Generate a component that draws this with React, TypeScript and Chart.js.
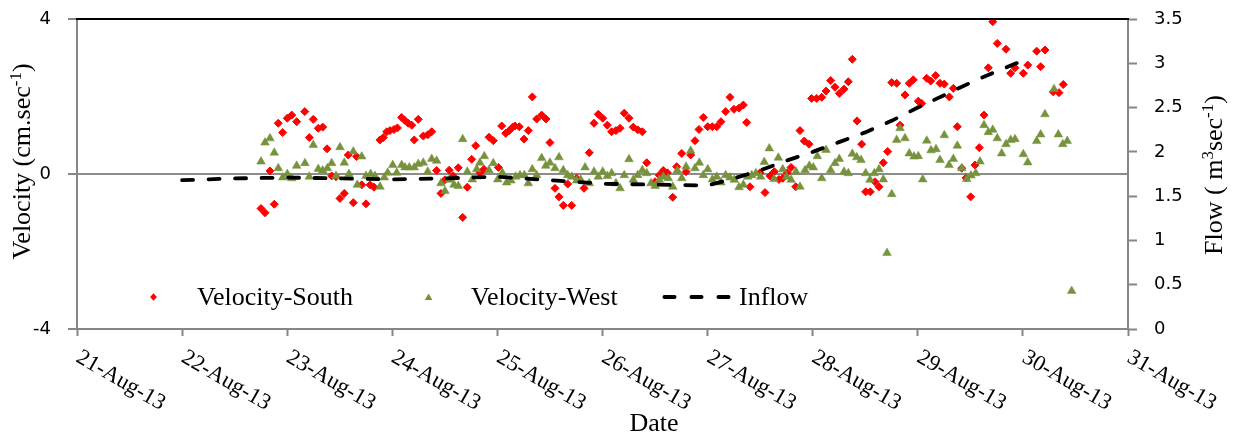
import { useEffect, useRef } from 'react';
import { Chart, registerables } from 'chart.js';

Chart.register(...registerables);

// x values are days since 21-Aug-13 00:00
const dateLabels = ['21-Aug-13', '22-Aug-13', '23-Aug-13', '24-Aug-13', '25-Aug-13', '26-Aug-13', '27-Aug-13', '28-Aug-13', '29-Aug-13', '30-Aug-13', '31-Aug-13'];

const southDay = [
  1.751, 1.789, 1.836, 1.877, 1.915, 1.957, 2.001, 2.043, 2.090, 2.167,
  2.210, 2.248, 2.296, 2.338, 2.379, 2.423, 2.464, 2.502, 2.543, 2.581,
  2.629, 2.661, 2.709, 2.750, 2.788, 2.826, 2.883, 2.914, 2.947, 2.978,
  3.016, 3.048, 3.089, 3.121, 3.152, 3.185, 3.209, 3.247, 3.295, 3.337,
  3.375, 3.422, 3.463, 3.501, 3.542, 3.580, 3.628, 3.670, 3.714, 3.755,
  3.794, 3.834, 3.872, 3.920, 3.961, 4.009, 4.041, 4.079, 4.113, 4.146,
  4.167, 4.208, 4.253, 4.294, 4.332, 4.374, 4.421, 4.462, 4.500, 4.548,
  4.586, 4.627, 4.669, 4.707, 4.754, 4.824, 4.874, 4.919, 4.960, 5.002,
  5.046, 5.087, 5.128, 5.167, 5.207, 5.252, 5.293, 5.335, 5.379, 5.421,
  5.500, 5.540, 5.578, 5.617, 5.668, 5.706, 5.754, 5.795, 5.839, 5.880,
  5.918, 5.959, 6.001, 6.045, 6.087, 6.127, 6.172, 6.213, 6.251, 6.299,
  6.340, 6.372, 6.403, 6.499, 6.546, 6.594, 6.635, 6.679, 6.715, 6.758,
  6.794, 6.838, 6.879, 6.920, 6.965, 6.990, 7.038, 7.086, 7.127, 7.171,
  7.212, 7.253, 7.298, 7.339, 7.377, 7.422, 7.466, 7.504, 7.548, 7.593,
  7.631, 7.672, 7.713, 7.752, 7.799, 7.831, 7.878, 7.919, 7.957, 8.005,
  8.037, 8.085, 8.123, 8.170, 8.211, 8.252, 8.300, 8.338, 8.376, 8.418,
  8.459, 8.503, 8.544, 8.585, 8.630, 8.671, 8.713, 8.756, 8.839, 8.884,
  8.925, 9.004, 9.046, 9.131, 9.169, 9.210, 9.289, 9.343, 9.384,
];
const southVelocity = [
  -0.89, -1.00, 0.08, -0.78, 1.31, 1.07, 1.44, 1.52, 1.35, 1.61,
  0.94, 1.41, 1.18, 1.21, 0.65, -0.05, -0.07, -0.63, -0.50, 0.49,
  -0.74, 0.45, -0.28, -0.77, -0.28, -0.34, 0.88, 0.94, 1.09, 1.12,
  1.15, 1.19, 1.46, 1.38, 1.31, 1.26, 0.88, 1.41, 0.98, 1.01,
  1.09, 0.09, -0.50, -0.15, 0.10, -0.05, 0.16, -1.12, -0.34, 0.38,
  0.73, 0.03, 0.12, 0.95, 0.86, 0.17, 1.24, 1.05, 1.12, 1.21,
  1.24, 1.22, 0.90, 1.12, 1.99, 1.42, 1.52, 1.42, 0.81, -0.37,
  -0.59, -0.81, -0.26, -0.81, -0.11, -0.37, 0.55, 1.31, 1.54, 1.44,
  1.26, 1.09, 1.12, 1.18, 1.57, 1.44, 1.21, 1.14, 1.09, 0.29,
  -0.20, -0.03, 0.09, 0.03, -0.60, 0.19, 0.53, 0.06, 0.49, 0.86,
  1.15, 1.46, 1.22, 1.22, 1.22, 1.35, 1.61, 1.98, 1.67, 1.70,
  1.78, 1.33, -0.33, 0.03, -0.48, -0.05, 0.06, -0.14, -0.11, 0.03,
  0.17, -0.33, 1.12, 0.85, 0.77, 1.95, 1.95, 1.98, 2.14, 2.41,
  2.24, 2.08, 2.19, 2.38, 2.96, 1.37, 0.77, -0.46, -0.46, -0.20,
  -0.33, 0.29, 0.58, 2.36, 2.34, 1.26, 2.04, 2.34, 2.43, 1.88,
  1.82, 2.47, 2.40, 2.54, 2.34, 2.32, 1.99, 2.21, 1.22, 0.15,
  -0.10, -0.59, 0.23, 0.68, 1.52, 2.74, 3.93, 3.37, 3.22, 2.60,
  2.74, 2.60, 2.81, 3.17, 2.77, 3.20, 2.12, 2.10, 2.31,
];

const westDay = [
  1.751, 1.789, 1.836, 1.877, 1.915, 1.957, 2.001, 2.043, 2.090, 2.169,
  2.210, 2.248, 2.296, 2.338, 2.382, 2.423, 2.464, 2.502, 2.543, 2.588,
  2.629, 2.667, 2.709, 2.750, 2.794, 2.835, 2.883, 2.924, 2.956, 3.004,
  3.042, 3.089, 3.121, 3.162, 3.209, 3.247, 3.295, 3.337, 3.375, 3.422,
  3.463, 3.501, 3.542, 3.587, 3.628, 3.670, 3.714, 3.761, 3.803, 3.834,
  3.875, 3.920, 3.961, 4.003, 4.047, 4.088, 4.129, 4.174, 4.215, 4.256,
  4.294, 4.332, 4.374, 4.421, 4.460, 4.500, 4.548, 4.586, 4.627, 4.669,
  4.707, 4.754, 4.793, 4.834, 4.874, 4.919, 4.960, 5.002, 5.046, 5.087,
  5.128, 5.167, 5.207, 5.252, 5.293, 5.335, 5.379, 5.421, 5.461, 5.500,
  5.540, 5.578, 5.626, 5.668, 5.712, 5.754, 5.795, 5.839, 5.880, 5.921,
  5.959, 6.001, 6.045, 6.087, 6.127, 6.172, 6.213, 6.254, 6.299, 6.340,
  6.382, 6.420, 6.460, 6.505, 6.539, 6.587, 6.632, 6.673, 6.715, 6.752,
  6.794, 6.841, 6.879, 6.927, 6.968, 7.006, 7.044, 7.086, 7.127, 7.171,
  7.212, 7.253, 7.298, 7.339, 7.377, 7.419, 7.460, 7.504, 7.545, 7.586,
  7.631, 7.672, 7.707, 7.752, 7.799, 7.831, 7.878, 7.919, 7.964, 8.005,
  8.047, 8.085, 8.126, 8.173, 8.211, 8.252, 8.297, 8.338, 8.376, 8.418,
  8.465, 8.506, 8.551, 8.592, 8.630, 8.671, 8.713, 8.756, 8.798, 8.839,
  8.884, 8.925, 9.004, 9.046, 9.131, 9.169, 9.210, 9.296, 9.337, 9.379,
  9.422, 9.464,
];
const westVelocity = [
  0.32, 0.81, 0.92, 0.55, 0.15, -0.09, 0.00, -0.11, 0.21, 0.28,
  -0.07, 0.75, 0.13, 0.09, 0.15, 0.28, -0.05, 0.69, 0.29, 0.00,
  0.58, -0.28, 0.45, -0.05, 0.00, -0.05, -0.33, -0.09, 0.03, 0.23,
  0.03, 0.23, 0.17, 0.17, 0.17, 0.26, 0.29, 0.06, 0.39, 0.34,
  -0.24, -0.44, -0.15, -0.28, -0.31, 0.90, 0.06, -0.14, 0.12, 0.29,
  0.46, 0.10, 0.28, -0.14, 0.03, -0.22, -0.17, -0.07, -0.03, -0.03,
  -0.24, 0.12, -0.03, 0.41, 0.21, 0.29, 0.15, 0.43, 0.10, -0.03,
  -0.07, -0.17, -0.15, 0.17, -0.24, 0.06, -0.07, 0.06, -0.05, 0.02,
  -0.24, -0.37, -0.03, 0.38, -0.15, -0.03, 0.10, 0.02, -0.24, -0.31,
  -0.15, -0.07, -0.11, -0.33, 0.09, -0.11, 0.19, 0.60, 0.15, 0.29,
  -0.03, 0.12, -0.14, -0.07, -0.22, -0.03, -0.09, -0.15, -0.34, -0.28,
  -0.07, -0.03, 0.02, -0.07, 0.31, 0.66, -0.13, 0.42, 0.12, -0.07,
  -0.15, 0.06, -0.33, 0.10, 0.21, 0.17, 0.46, -0.11, 0.62, 0.10,
  0.28, 0.39, 0.06, 0.02, 0.52, 0.43, 0.36, 0.02, -0.15, 0.02,
  0.12, -0.14, -2.04, -0.52, 0.88, 1.18, 0.92, 0.53, 0.45, 0.46,
  -0.14, 0.86, 0.61, 0.64, 0.36, 1.00, 0.23, 0.39, 0.73, 0.15,
  -0.13, -0.04, 0.02, 0.32, 1.26, 1.08, 1.14, 0.92, 0.53, 0.77,
  0.88, 0.90, 0.51, 0.30, 0.85, 1.02, 1.54, 2.19, 1.02, 0.77,
  0.85, -3.02,
];

const inflowDay = [1, 1.5, 2, 2.5, 3, 3.5, 4, 4.5, 5, 5.5, 6, 6.25, 6.5, 6.75, 7, 7.25, 7.5, 7.75, 8, 8.25, 8.5, 8.75, 9];
const inflowFlow = [1.68, 1.70, 1.71, 1.70, 1.69, 1.70, 1.72, 1.68, 1.64, 1.63, 1.62, 1.70, 1.79, 1.90, 2.00, 2.11, 2.22, 2.35, 2.50, 2.64, 2.78, 2.91, 3.03];

const SERIF = '"Liberation Serif", "Times New Roman", serif';
const SANS = '"DejaVu Sans", "Open Sans", sans-serif';
const RED = '#FF0000';
const GREEN = '#76923C';
const AXIS = '#868686';

type Part = { t: string; sup?: boolean };

function drawRich(ctx: CanvasRenderingContext2D, parts: Part[], size: number) {
  const base = `${size}px ${SERIF}`;
  const supF = `${Math.round(size * 0.65)}px ${SERIF}`;
  const widths = parts.map((p) => {
    ctx.font = p.sup ? supF : base;
    return ctx.measureText(p.t).width;
  });
  const total = widths.reduce((a, b) => a + b, 0);
  let x = -total / 2;
  ctx.textAlign = 'left';
  ctx.textBaseline = 'alphabetic';
  parts.forEach((p, i) => {
    ctx.font = p.sup ? supF : base;
    ctx.fillText(p.t, x, p.sup ? -size * 0.36 : 0);
    x += widths[i];
  });
}

const overlayPlugin = {
  id: 'overlayTexts',
  afterDraw(chart: any) {
    const { ctx, chartArea, scales } = chart;
    ctx.save();
    // top border
    ctx.strokeStyle = '#000000';
    ctx.lineWidth = 2;
    ctx.beginPath();
    ctx.moveTo(chartArea.left - 1, chartArea.top);
    ctx.lineTo(chartArea.right + 1, chartArea.top);
    ctx.stroke();

    ctx.fillStyle = '#000000';
    // x tick labels (rotated clockwise)
    ctx.font = `22.5px ${SERIF}`;
    ctx.textAlign = 'left';
    ctx.textBaseline = 'middle';
    dateLabels.forEach((lab, i) => {
      const x = scales.x.getPixelForValue(i);
      ctx.save();
      ctx.translate(x + 1, 356);
      ctx.rotate(Math.PI / 6);
      ctx.fillText(lab, 0, 0);
      ctx.restore();
    });

    // x title
    ctx.font = `26px ${SERIF}`;
    ctx.textAlign = 'center';
    ctx.textBaseline = 'alphabetic';
    ctx.fillText('Date', 654, 431);

    // left title
    ctx.save();
    ctx.translate(30, 161.5);
    ctx.rotate(-Math.PI / 2);
    drawRich(ctx, [{ t: 'Velocity (cm.sec' }, { t: '-1', sup: true }, { t: ')' }], 26);
    ctx.restore();

    // right title
    ctx.save();
    ctx.translate(1222, 175);
    ctx.rotate(-Math.PI / 2);
    drawRich(ctx, [{ t: 'Flow ( m' }, { t: '3', sup: true }, { t: 'sec' }, { t: '-1', sup: true }, { t: ')' }], 26);
    ctx.restore();

    // legend
    const ly = 297;
    ctx.fillStyle = RED;
    ctx.beginPath();
    ctx.moveTo(153.5 - 3.4, ly);
    ctx.lineTo(153.5, ly - 3.8);
    ctx.lineTo(153.5 + 3.4, ly);
    ctx.lineTo(153.5, ly + 3.8);
    ctx.closePath();
    ctx.fill();
    ctx.fillStyle = GREEN;
    ctx.beginPath();
    ctx.moveTo(428.6, ly - 3.6);
    ctx.lineTo(428.6 + 3.8, ly + 2.9);
    ctx.lineTo(428.6 - 3.8, ly + 2.9);
    ctx.closePath();
    ctx.fill();
    ctx.strokeStyle = '#000000';
    ctx.lineWidth = 3.8;
    ctx.lineCap = 'round';
    [662.5, 689.5, 716.5].forEach((s) => {
      ctx.beginPath();
      ctx.moveTo(s + 1.9, ly);
      ctx.lineTo(s + 14 - 1.9, ly);
      ctx.stroke();
    });
    ctx.fillStyle = '#000000';
    ctx.font = `26px ${SERIF}`;
    ctx.textAlign = 'left';
    ctx.textBaseline = 'alphabetic';
    ctx.fillText('Velocity-South', 197, 305);
    ctx.fillText('Velocity-West', 471, 305);
    ctx.fillText('Inflow', 739, 305);
    ctx.restore();
  },
};

export default function App() {
  const canvasRef = useRef<HTMLCanvasElement | null>(null);

  useEffect(() => {
    const canvas = canvasRef.current;
    if (!canvas) return;
    const southData = southDay.map((d, i) => ({ x: d, y: southVelocity[i] }));
    const westData = westDay.map((d, i) => ({ x: d, y: westVelocity[i] }));
    const inflowData = inflowDay.map((d, i) => ({ x: d, y: inflowFlow[i] }));

    const fitVertical = (w: number) => (s: any) => {
      s.width = w;
      s.paddingTop = 0;
      s.paddingBottom = 0;
    };

    const chart = new Chart(canvas, {
      type: 'scatter',
      data: {
        datasets: [
          {
            label: 'Velocity-South',
            data: southData,
            yAxisID: 'y',
            pointStyle: 'rectRot',
            pointRadius: 4,
            backgroundColor: RED,
            borderColor: RED,
            borderWidth: 1,
            order: 3,
          },
          {
            label: 'Velocity-West',
            data: westData,
            yAxisID: 'y',
            pointStyle: 'triangle',
            pointRadius: 5,
            backgroundColor: GREEN,
            borderColor: GREEN,
            borderWidth: 0.5,
            order: 2,
          },
          {
            label: 'Inflow',
            data: inflowData,
            yAxisID: 'y1',
            showLine: true,
            pointRadius: 0,
            borderColor: '#000000',
            backgroundColor: '#000000',
            borderWidth: 3.8,
            borderDash: [11, 15.5],
            borderCapStyle: 'round',
            tension: 0,
            order: 1,
          } as any,
        ],
      },
      options: {
        animation: false,
        responsive: false,
        maintainAspectRatio: false,
        devicePixelRatio: 1,
        events: [],
        layout: { padding: { top: 19, left: 0, right: 0, bottom: 0 } },
        plugins: {
          legend: { display: false },
          tooltip: { enabled: false },
          title: { display: false },
        },
        scales: {
          x: {
            type: 'linear',
            position: 'bottom',
            min: 0,
            max: 10,
            ticks: { stepSize: 1, display: false },
            grid: {
              drawOnChartArea: false,
              drawTicks: true,
              tickLength: 7,
              tickColor: AXIS,
              tickWidth: 2,
            },
            border: { display: true, color: AXIS, width: 2 },
            afterFit: (s: any) => {
              s.height = 108;
              s.paddingLeft = 0;
              s.paddingRight = 0;
            },
          },
          y: {
            type: 'linear',
            position: 'left',
            min: -4,
            max: 4,
            ticks: {
              stepSize: 4,
              padding: 17,
              color: '#000000',
              font: { family: SANS, size: 18 },
              callback: (v: any) => String(v),
            },
            grid: {
              color: (c: any) => (c.tick && c.tick.value === 0 ? '#8C8C8C' : 'rgba(0,0,0,0)'),
              lineWidth: 2,
              drawTicks: true,
              tickLength: 9,
              tickColor: AXIS,
              tickWidth: 2,
            },
            border: { display: true, color: AXIS, width: 2 },
            afterFit: fitVertical(77),
          },
          y1: {
            type: 'linear',
            position: 'right',
            min: 0,
            max: 3.5,
            ticks: {
              stepSize: 0.5,
              padding: 17,
              color: '#000000',
              font: { family: SANS, size: 18 },
              callback: (v: any) => String(Math.round(Number(v) * 10) / 10),
            },
            grid: {
              drawOnChartArea: false,
              drawTicks: true,
              tickLength: 9,
              tickColor: AXIS,
              tickWidth: 2,
            },
            border: { display: true, color: AXIS, width: 2 },
            afterFit: fitVertical(105),
          },
        },
      } as any,
      plugins: [overlayPlugin],
    });
    return () => chart.destroy();
  }, []);

  return (
    <div style={{ position: 'absolute', left: 0, top: 0, width: 1233, height: 437, background: '#ffffff' }}>
      <canvas ref={canvasRef} width={1233} height={437} style={{ display: 'block', width: 1233, height: 437 }} />
    </div>
  );
}
